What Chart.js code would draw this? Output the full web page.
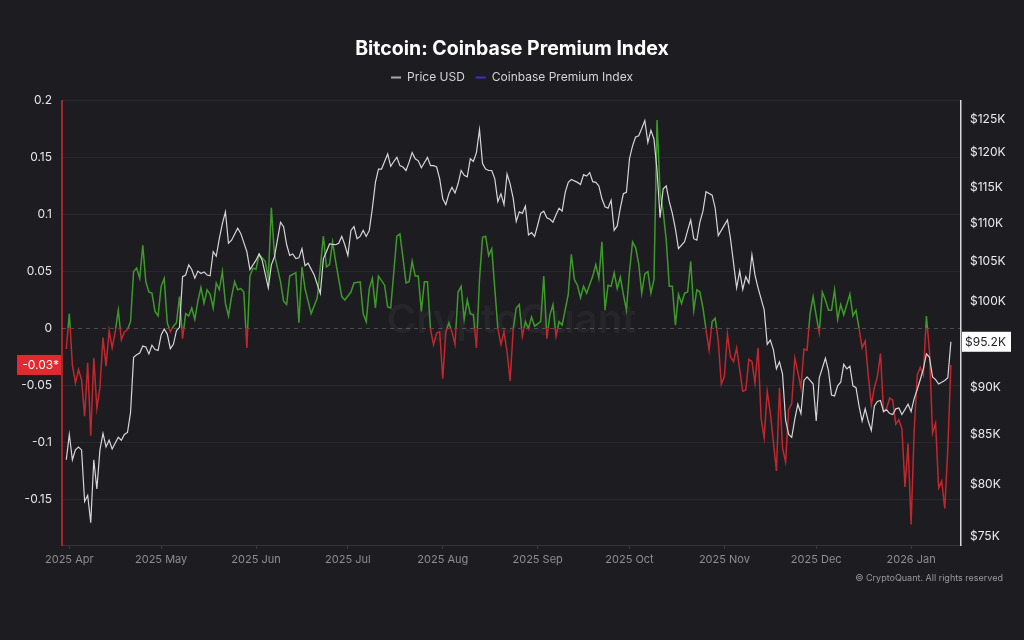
<!DOCTYPE html>
<html>
<head>
<meta charset="utf-8">
<title>Bitcoin: Coinbase Premium Index</title>
<script src="https://cdn.jsdelivr.net/npm/chart.js@4.4.1/dist/chart.umd.min.js"></script>
<style>
  html, body { margin: 0; padding: 0; background: #1c1c21; }
  #wrap { width: 1024px; height: 640px; }
</style>
</head>
<body>
<div id="wrap"><canvas id="premiumChart" width="1024" height="640"></canvas></div>
<script>
// x values are days counted from 2025-04-01
var premiumDays = [
  -1, 0, 1, 2, 3, 4, 5, 6, 7, 8,
  9, 10, 11, 12, 13, 14, 15, 16, 17, 18,
  19, 20, 21, 22, 23, 24, 25, 26, 27, 28,
  29, 30, 31, 32, 33, 34, 35, 36, 37, 38,
  39, 40, 41, 42, 43, 44, 45, 46, 47, 48,
  49, 50, 51, 52, 53, 54, 55, 56, 57, 58,
  59, 60, 61, 62, 64, 65, 66, 67, 69, 70,
  71, 72, 74, 75, 76, 77, 79, 81, 83, 84,
  85, 86, 87, 89, 90, 92, 93, 95, 96, 97,
  98, 99, 100, 101, 103, 104, 105, 107, 108, 109,
  110, 111, 112, 113, 114, 115, 116, 117, 118, 119,
  120, 121, 122, 123, 124, 125, 126, 127, 128, 129,
  130, 131, 132, 133, 134, 135, 136, 137, 138, 139,
  140, 141, 142, 143, 144, 145, 146, 147, 148, 149,
  150, 151, 152, 154, 155, 156, 157, 158, 159, 160,
  161, 163, 164, 165, 166, 167, 168, 169, 171, 172,
  173, 174, 175, 176, 177, 178, 179, 180, 181, 182,
  183, 184, 185, 186, 187, 188, 189, 190, 191, 192,
  193, 194, 195, 196, 197, 198, 199, 200, 201, 202,
  203, 204, 205, 206, 207, 208, 209, 210, 211, 212,
  213, 214, 215, 216, 217, 218, 220, 221, 222, 223,
  224, 225, 226, 227, 228, 229, 231, 232, 233, 234,
  235, 236, 237, 238, 239, 240, 241, 242, 243, 244,
  245, 246, 247, 248, 249, 250, 251, 252, 253, 255,
  256, 257, 258, 259, 260, 261, 262, 263, 264, 265,
  266, 267, 268, 269, 270, 271, 272, 273, 274, 275,
  276, 277, 278, 279, 280, 281, 282, 283, 284, 285,
  286, 287, 288
];
var premiumValues = [
  -0.018, 0.013, -0.032, -0.048, -0.036, -0.045, -0.077, -0.030, -0.094, -0.026,
  -0.070, -0.052, -0.008, -0.033, -0.002, -0.017, -0.003, 0.016, -0.010, -0.003,
  -0.001, 0.006, 0.050, 0.053, 0.044, 0.073, 0.041, 0.032, 0.031, 0.015,
  0.011, 0.037, 0.044, 0.005, -0.003, 0.002, 0.005, 0.028, -0.009, 0.013,
  0.011, 0.018, 0.008, 0.024, 0.036, 0.022, 0.034, 0.030, 0.018, 0.040,
  0.034, 0.050, 0.022, 0.011, 0.028, 0.041, 0.034, 0.035, 0.032, -0.017,
  0.046, 0.053, 0.052, 0.065, 0.059, 0.044, 0.106, 0.065, 0.041, 0.024,
  0.021, 0.046, 0.049, 0.005, 0.054, 0.035, 0.013, 0.027, 0.081, 0.054,
  0.056, 0.076, 0.059, 0.028, 0.025, 0.032, 0.040, 0.041, 0.013, 0.006,
  0.035, 0.044, 0.018, 0.046, 0.038, 0.019, 0.018, 0.081, 0.083, 0.062,
  0.040, 0.041, 0.059, 0.046, 0.046, 0.015, 0.041, 0.041, -0.001, -0.014,
  -0.004, -0.003, -0.044, -0.003, 0.005, -0.003, -0.014, 0.032, 0.037, 0.008,
  0.025, 0.013, 0.012, -0.017, 0.043, 0.080, 0.081, 0.064, 0.070, 0.035,
  0.000, -0.014, -0.003, -0.020, -0.046, -0.001, 0.018, 0.021, -0.007, 0.006,
  0.000, 0.010, 0.002, 0.006, 0.046, -0.009, 0.012, 0.021, -0.007, 0.006,
  0.003, 0.030, 0.065, 0.043, 0.038, 0.027, 0.037, 0.031, 0.046, 0.056,
  0.044, 0.076, 0.016, 0.038, 0.037, 0.049, 0.035, 0.045, 0.030, 0.016,
  0.050, 0.076, 0.071, 0.057, 0.031, 0.048, 0.050, 0.031, 0.043, 0.183,
  0.119, 0.103, 0.078, 0.037, 0.037, 0.003, 0.030, 0.022, 0.031, 0.032,
  0.059, 0.016, 0.034, 0.032, 0.018, -0.001, -0.019, 0.006, 0.009, -0.011,
  -0.049, -0.042, -0.005, -0.025, -0.029, -0.017, -0.055, -0.054, -0.027, -0.029,
  -0.048, -0.017, -0.079, -0.096, -0.055, -0.074, -0.125, -0.052, -0.105, -0.117,
  -0.071, -0.066, -0.026, -0.038, -0.052, -0.018, -0.019, 0.013, 0.028, 0.011,
  -0.004, 0.032, 0.025, 0.016, 0.016, 0.034, 0.008, 0.021, 0.012, 0.030,
  0.011, 0.016, 0.000, -0.017, -0.011, -0.041, -0.067, -0.052, -0.042, -0.022,
  -0.073, -0.070, -0.061, -0.063, -0.084, -0.080, -0.088, -0.139, -0.101, -0.172,
  -0.090, -0.041, -0.034, -0.041, 0.011, -0.020, -0.092, -0.083, -0.140, -0.134,
  -0.158, -0.105, -0.032
];
var priceDays = [
  -1, 0, 1, 2, 3, 4, 5, 6, 7, 8,
  9, 10, 11, 12, 13, 14, 15, 16, 17, 18,
  19, 20, 21, 22, 23, 24, 25, 26, 27, 28,
  29, 30, 31, 32, 33, 34, 35, 36, 37, 38,
  39, 40, 41, 42, 43, 44, 45, 46, 47, 48,
  49, 50, 51, 52, 53, 55, 56, 58, 59, 61,
  62, 63, 65, 66, 67, 69, 70, 71, 72, 73,
  74, 75, 76, 77, 78, 80, 82, 83, 84, 85,
  87, 88, 89, 90, 91, 92, 93, 94, 95, 96,
  97, 98, 99, 100, 101, 102, 103, 104, 105, 106,
  107, 108, 109, 110, 111, 112, 113, 114, 115, 117,
  118, 119, 120, 121, 122, 123, 124, 125, 126, 127,
  128, 129, 130, 131, 132, 133, 134, 135, 136, 137,
  138, 139, 140, 141, 142, 143, 144, 145, 146, 147,
  148, 149, 150, 151, 152, 153, 154, 155, 156, 157,
  158, 159, 160, 161, 162, 163, 164, 166, 167, 168,
  169, 170, 171, 172, 173, 174, 175, 176, 177, 178,
  179, 180, 181, 182, 183, 184, 185, 186, 187, 188,
  189, 190, 191, 192, 193, 194, 195, 196, 197, 198,
  199, 201, 202, 203, 204, 205, 206, 207, 208, 210,
  211, 212, 214, 215, 216, 218, 219, 220, 221, 222,
  223, 224, 225, 227, 228, 229, 230, 231, 232, 233,
  234, 235, 236, 237, 238, 239, 240, 241, 242, 243,
  244, 245, 247, 248, 249, 250, 251, 252, 253, 254,
  255, 256, 257, 258, 259, 260, 261, 262, 263, 264,
  265, 266, 267, 268, 269, 270, 271, 272, 274, 275,
  276, 277, 278, 279, 280, 281, 282, 283, 284, 286,
  287, 288
];
// price in thousand USD
var priceValues = [
  82.4, 85.0, 82.4, 83.4, 83.7, 83.4, 78.3, 78.9, 76.3, 82.4,
  79.5, 83.4, 85.1, 83.7, 84.4, 83.5, 84.1, 84.7, 84.4, 85.0,
  85.2, 87.3, 93.4, 93.7, 93.9, 94.7, 94.6, 93.8, 94.8, 94.3,
  94.2, 96.0, 96.7, 96.1, 94.4, 94.9, 96.5, 96.9, 103.1, 103.3,
  104.6, 104.0, 102.9, 103.8, 103.5, 103.7, 103.3, 103.2, 106.3, 105.7,
  108.0, 110.0, 111.6, 107.4, 107.8, 109.4, 108.7, 106.3, 104.0, 105.2,
  106.0, 105.2, 101.7, 104.6, 105.6, 110.2, 109.6, 107.2, 105.8, 106.0,
  105.4, 105.5, 106.7, 104.5, 104.8, 103.3, 101.0, 105.4, 106.3, 107.3,
  107.2, 107.4, 108.3, 107.2, 105.8, 109.1, 109.6, 108.0, 108.3, 109.1,
  108.3, 109.1, 112.1, 115.7, 117.6, 117.6, 118.7, 119.8, 118.0, 118.7,
  119.3, 118.1, 117.9, 117.4, 118.6, 120.0, 119.1, 118.8, 117.8, 119.3,
  118.1, 118.1, 117.9, 116.2, 113.4, 112.6, 114.1, 115.0, 114.2, 115.5,
  117.4, 116.7, 116.5, 119.1, 118.7, 120.0, 123.4, 118.4, 117.6, 117.4,
  117.4, 116.2, 113.0, 114.1, 112.6, 116.9, 115.5, 113.5, 110.3, 111.6,
  111.4, 112.4, 108.5, 108.8, 108.3, 109.8, 111.4, 111.7, 110.8, 110.6,
  110.2, 111.2, 112.1, 111.7, 114.3, 115.7, 116.1, 115.7, 115.4, 116.8,
  116.6, 117.1, 115.8, 115.7, 115.2, 113.4, 112.3, 112.1, 113.2, 109.1,
  109.7, 112.1, 114.1, 114.3, 119.1, 121.0, 122.3, 122.5, 123.6, 124.8,
  121.5, 123.3, 122.0, 117.4, 110.8, 114.8, 115.2, 113.0, 111.4, 109.3,
  106.7, 107.6, 109.1, 110.5, 108.0, 107.8, 110.2, 111.7, 114.4, 113.9,
  112.1, 108.4, 109.8, 110.5, 108.0, 101.7, 103.8, 101.5, 103.1, 102.3,
  105.9, 103.3, 101.7, 99.0, 94.9, 95.4, 94.3, 92.1, 92.9, 91.5,
  86.5, 85.0, 84.7, 86.6, 88.2, 87.2, 90.8, 91.2, 90.8, 90.4,
  86.4, 91.1, 93.3, 91.9, 89.2, 89.1, 90.2, 90.6, 92.6, 92.1,
  92.4, 90.2, 90.0, 88.0, 86.4, 87.7, 86.4, 85.4, 88.0, 88.5,
  88.6, 87.4, 87.6, 87.2, 87.1, 87.7, 87.8, 87.1, 88.2, 87.4,
  88.8, 89.8, 90.9, 92.1, 93.8, 93.4, 91.2, 90.9, 90.4, 90.8,
  91.1, 95.2
];
var monthDays = [0, 30, 61, 91, 122, 153, 183, 214, 244, 275];
var monthLabels = ["2025 Apr", "2025 May", "2025 Jun", "2025 Jul", "2025 Aug",
  "2025 Sep", "2025 Oct", "2025 Nov", "2025 Dec", "2026 Jan"];
var premiumTicks = [0.2, 0.15, 0.1, 0.05, 0, -0.05, -0.1, -0.15];
var priceTicks = [75, 80, 85, 90, 95, 100, 105, 110, 115, 120, 125];

var green = "#3d9a2a";
var red = "#c1272d";
var fontFamily = "Inter, 'Noto Sans', sans-serif";

function zip(xs, ys) {
  return xs.map(function (x, i) { return { x: x, y: ys[i] }; });
}

// green above zero, red below zero
function premiumColor(context) {
  var chart = context.chart;
  var area = chart.chartArea;
  if (!area) return green;
  var zero = chart.scales.y.getPixelForValue(0);
  var stop = (zero - area.top) / (area.bottom - area.top);
  stop = Math.min(Math.max(stop, 0), 1);
  var g = chart.ctx.createLinearGradient(0, area.top, 0, area.bottom);
  g.addColorStop(0, green);
  g.addColorStop(stop, green);
  g.addColorStop(stop, red);
  g.addColorStop(1, red);
  return g;
}

var overlayPlugin = {
  id: "overlay",
  beforeDatasetsDraw: function (chart) {
    var ctx = chart.ctx, area = chart.chartArea;
    var zero = Math.round(chart.scales.y.getPixelForValue(0)) + 0.5;
    ctx.save();
    ctx.font = "600 40px " + fontFamily;
    ctx.fillStyle = "rgba(255,255,255,0.045)";
    ctx.textAlign = "center";
    ctx.textBaseline = "middle";
    ctx.fillText("CryptoQuant", (area.left + area.right) / 2, zero - 8);
    ctx.strokeStyle = "rgba(255,255,255,0.22)";
    ctx.lineWidth = 1;
    ctx.setLineDash([4, 4]);
    ctx.beginPath();
    ctx.moveTo(area.left, zero);
    ctx.lineTo(area.right, zero);
    ctx.stroke();
    ctx.restore();
  },
  afterDraw: function (chart) {
    var ctx = chart.ctx, area = chart.chartArea;
    var lastPrice = priceValues[priceValues.length - 1];
    var lastPremium = premiumValues[premiumValues.length - 1];
    var py = chart.scales.y1.getPixelForValue(lastPrice);
    var qy = chart.scales.y.getPixelForValue(lastPremium);
    ctx.save();
    ctx.font = "12px " + fontFamily;
    ctx.textBaseline = "middle";
    // last price tag
    ctx.fillStyle = "#ffffff";
    ctx.fillRect(area.right + 1, py - 10, 49, 20);
    ctx.fillStyle = "#1c1c21";
    ctx.textAlign = "left";
    ctx.fillText("$" + lastPrice.toFixed(1) + "K", area.right + 4, py + 0.5);
    // last premium tag
    ctx.fillStyle = "#e02a2e";
    ctx.fillRect(area.left - 45, qy - 10, 44, 20);
    ctx.fillStyle = "#ffffff";
    ctx.textAlign = "right";
    ctx.fillText(lastPremium.toFixed(2) + "*", area.left - 3, qy + 0.5);
    // copyright
    ctx.font = "9px " + fontFamily;
    ctx.fillStyle = "#9a9a9e";
    ctx.textAlign = "right";
    ctx.fillText("\u00a9 CryptoQuant. All rights reserved", 1003, 578);
    ctx.restore();
  }
};

var chartCanvas = document.getElementById("premiumChart").getContext("2d");

new Chart(chartCanvas, {
  type: "line",
  data: {
    datasets: [
      {
        label: "Price USD",
        data: zip(priceDays, priceValues),
        yAxisID: "y1",
        borderColor: "#d6d6d8",
        borderWidth: 1.2,
        pointRadius: 0,
        tension: 0,
        order: 0
      },
      {
        label: "Coinbase Premium Index",
        data: zip(premiumDays, premiumValues),
        yAxisID: "y",
        borderColor: premiumColor,
        borderWidth: 1.5,
        pointRadius: 0,
        tension: 0,
        order: 1
      }
    ]
  },
  plugins: [overlayPlugin],
  options: {
    responsive: false,
    animation: false,
    devicePixelRatio: 1,
    layout: { padding: { left: 0, right: 0, top: 0, bottom: 0 } },
    plugins: {
      title: {
        display: true,
        text: "Bitcoin: Coinbase Premium Index",
        color: "#ffffff",
        font: { family: fontFamily, size: 19.5, weight: "bold" },
        padding: { top: 37, bottom: 0 }
      },
      // empty spacer between legend and plot area
      subtitle: {
        display: true,
        text: "",
        weight: 500,
        font: { size: 1 },
        padding: { top: 0, bottom: 6 }
      },
      legend: {
        display: true,
        labels: {
          color: "#d4d4d8",
          font: { family: fontFamily, size: 12 },
          boxWidth: 10,
          boxHeight: 2,
          padding: 11,
          generateLabels: function () {
            return [
              { text: "Price USD", fillStyle: "#a8a8ac", strokeStyle: "#a8a8ac", lineWidth: 0, datasetIndex: 0, fontColor: "#d4d4d8" },
              { text: "Coinbase Premium Index", fillStyle: "#3d30c4", strokeStyle: "#3d30c4", lineWidth: 0, datasetIndex: 1, fontColor: "#d4d4d8" }
            ];
          }
        }
      },
      tooltip: { enabled: false }
    },
    scales: {
      x: {
        type: "linear",
        min: -2.39,
        max: 291.3,
        afterFit: function (scale) { scale.height = 95; },
        afterBuildTicks: function (scale) {
          scale.ticks = monthDays.map(function (d) { return { value: d }; });
        },
        ticks: {
          autoSkip: false,
          maxRotation: 0,
          color: "#8d8d92",
          font: { family: fontFamily, size: 11 },
          padding: 4,
          callback: function (value) {
            var i = monthDays.indexOf(value);
            return i >= 0 ? monthLabels[i] : "";
          }
        },
        grid: { display: true, drawOnChartArea: false, drawTicks: true, tickLength: 4, color: "#3a3a40" },
        border: { display: true, color: "#34343a", width: 1 }
      },
      y: {
        position: "left",
        min: -0.19,
        max: 0.2,
        afterFit: function (scale) { scale.width = 62; },
        afterBuildTicks: function (scale) {
          scale.ticks = premiumTicks.map(function (v) { return { value: v }; });
        },
        ticks: {
          color: "#e6e6e8",
          font: { family: fontFamily, size: 12 },
          padding: 10,
          callback: function (value) { return String(value); }
        },
        grid: {
          drawTicks: false,
          color: function (c) { return c.tick && c.tick.value === 0 ? "rgba(0,0,0,0)" : "rgba(255,255,255,0.055)"; }
        },
        border: { display: true, color: "#a3262b", width: 2 }
      },
      y1: {
        type: "logarithmic",
        position: "right",
        min: 74.24,
        max: 127.88,
        afterFit: function (scale) { scale.width = 63; },
        afterBuildTicks: function (scale) {
          scale.ticks = priceTicks.map(function (v) { return { value: v }; });
        },
        ticks: {
          autoSkip: false,
          color: "#ececee",
          font: { family: fontFamily, size: 12 },
          padding: 9,
          callback: function (value) { return "$" + value + "K"; }
        },
        grid: { drawOnChartArea: false, drawTicks: false },
        border: { display: true, color: "#d8d8dc", width: 1.5 }
      }
    }
  }
});
</script>
</body>
</html>
